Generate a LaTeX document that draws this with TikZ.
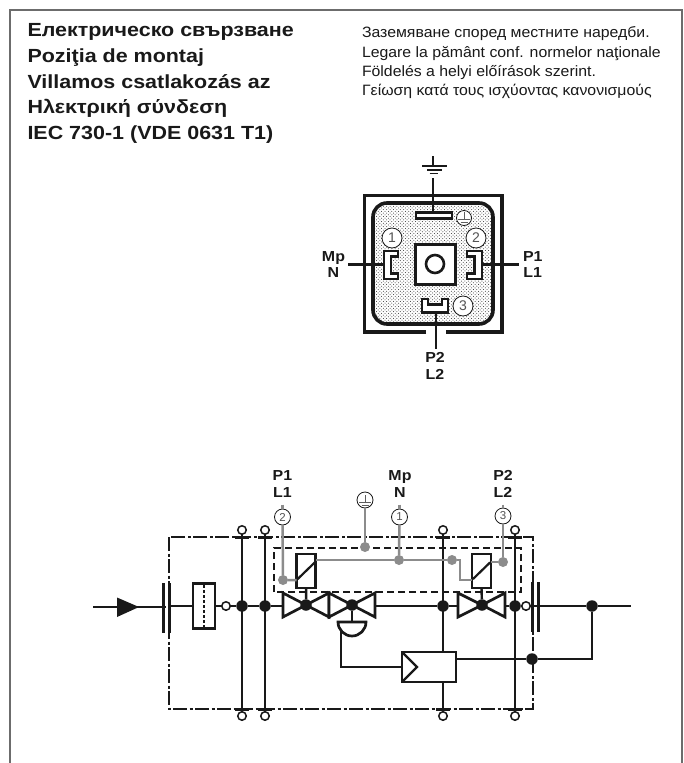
\documentclass[tikz,border=0pt]{standalone}
\usepackage{fontspec}
\setmainfont{Liberation Sans}
\newfontfamily\wideb[FakeStretch=1.13]{Liberation Sans Bold}
\newfontfamily\widel[FakeStretch=1.1]{Liberation Sans Bold}
\newfontfamily\widen[FakeStretch=1.055]{Liberation Sans}
\usetikzlibrary{patterns}
\pgfdeclarepatternformonly{stip}{\pgfqpoint{-1pt}{-1pt}}{\pgfqpoint{4.4pt}{4.4pt}}{\pgfqpoint{3.4pt}{3.4pt}}{%
 \pgfpathcircle{\pgfqpoint{0.8pt}{0.8pt}}{.5pt}%
 \pgfpathcircle{\pgfqpoint{2.5pt}{2.5pt}}{.5pt}%
 \pgfusepath{fill}}
\definecolor{ink}{gray}{0.1}
\definecolor{wire}{gray}{0.55}
\tikzset{
 x=1pt,y=-1pt,
 every node/.style={text=ink,inner sep=0pt,outer sep=0pt},
 title/.style={anchor=base west,font=\fontsize{19}{23}\wideb},
 note/.style={anchor=base west,font=\fontsize{15}{18}\widen},
 pinlabel/.style={align=center,font=\fontsize{14.5}{17}\widel},
 heavy/.style={draw=ink,line width=3.8pt},
 pinshape/.style={draw=ink,line width=2.8pt,fill=white,line join=miter},
 thin wire/.style={draw=ink,line width=1.7pt},
 med/.style={draw=ink,line width=2.7pt,fill=white},
 dot/.style={circle,fill=ink,minimum size=11.5pt},
 gdot/.style={circle,fill=wire,minimum size=10pt},
 port/.style={circle,draw=ink,line width=1.5pt,fill=white,minimum size=8.5pt},
 numc/.style={circle,draw=ink,line width=.8pt,fill=white,minimum size=20pt,font=\fontsize{14}{14}\selectfont,text=ink!75},
 numd/.style={circle,draw=ink,line width=.8pt,fill=white,minimum size=16pt,font=\fontsize{11.5}{12}\selectfont,text=ink!75},
 gray wire/.style={draw=wire,line width=2.5pt},
 capbar/.style={draw=ink,line width=3pt},
}
\begin{document}
\begin{tikzpicture}
\useasboundingbox (0,0) rectangle (684,763);
\fill[white] (0,0) rectangle (684,763);
\draw[draw=gray!85!black,line width=1.1pt] (10,763) -- (10,10) -- (682,10) -- (682,763);
% header
\node[title] (t1) at (27.5,36.5) {Електрическо свързване};
\node[title] (t2) at (27.5,62) {Poziţia de montaj};
\node[title] (t3) at (27.5,88) {Villamos csatlakozás az};
\node[title] (t4) at (27.5,113.5) {Ηλεκτρική σύνδεση};
\node[title] (t5) at (27.5,139.5) {IEC 730-1 (VDE 0631 T1)};
\node[note] (n1) at (362,37.5) {Заземяване според местните наредби.};
\node[note] (n2) at (362,57) {Legare la pământ conf. normelor naţionale};
\node[note] (n3) at (362,76) {Földelés a helyi előírások szerint.};
\node[note] (n4) at (362,95) {Γείωση κατά τους ισχύοντας κανονισμούς};
% connector housing
\draw[heavy] (426,332) -- (364.5,332) -- (364.5,195.5) -- (502,195.5) -- (502,332) -- (446,332);
\filldraw[pattern=stip,pattern color=ink!90,draw=ink,line width=3.6pt,rounded corners=14pt] (373,203) rectangle (493,324);
\node[draw=ink,line width=3pt,fill=white,minimum width=40pt,minimum height=40pt] (centre) at (435,264) {};
\node[circle,draw=ink,line width=2.6pt,fill=white,minimum size=18pt] (hole) at (435,264) {};
% earth pin and symbol
\node[draw=ink,line width=2.8pt,fill=white,minimum width=36pt,minimum height=6pt] (pe) at (434,215.5) {};
\coordinate (gtop) at (433,156);
\coordinate (gbase) at (433,166);
\draw[thin wire,line width=1.2pt] (gtop) -- (gbase);
\draw[thin wire,line width=1.2pt] (422,166) -- (447,166);
\draw[draw=ink,line width=1.3pt] (427,170) -- (442,170);
\draw[draw=ink,line width=1.3pt] (429.5,173.5) -- (438,173.5);
\coordinate (gw) at (433,178);
\draw[draw=ink,line width=2.6pt] (gw) -- (pe.north -| gw);
% pins
\filldraw[pinshape] (384,251) -- (398,251) -- (398,256.5) -- (391,256.5) -- (391,273.5) -- (398,273.5) -- (398,279) -- (384,279) -- cycle;
\filldraw[pinshape] (482,251) -- (467,251) -- (467,256.5) -- (474.5,256.5) -- (474.5,273.5) -- (467,273.5) -- (467,279) -- (482,279) -- cycle;
\filldraw[pinshape] (422,299) -- (428,299) -- (428,304.5) -- (442,304.5) -- (442,299) -- (448,299) -- (448,312.5) -- (422,312.5) -- cycle;
\coordinate (pl) at (384,264.5); \coordinate (plx) at (348,264.5);
\coordinate (pr) at (482,264.5); \coordinate (prx) at (519,264.5);
\coordinate (pb) at (436,312.5); \coordinate (pbx) at (436,349);
\draw[draw=ink,line width=2.6pt] (plx) -- (pl) (pr) -- (prx) (pb) -- (pbx);
\node[numc] (c1) at (392,238) {1};
\node[numc] (c2) at (476,238) {2};
\node[numc] (c3) at (463,306) {3};
\node[circle,draw=ink,line width=.8pt,fill=white,minimum size=15pt] (cg) at (464,218) {};
\draw[draw=ink!70,line width=1pt] (464,212) -- (464,219) (458,219) -- (470,219) (460.5,222) -- (467.5,222);
\node[pinlabel,anchor=east] (lm) at (345,264.5) {Mp\\[-.1pt]N};
\node[pinlabel,anchor=west] (lp) at (523,264.5) {P1\\[-.1pt]L1};
\node[pinlabel] (lb) at (435,365.5) {P2\\[-.1pt]L2};
% schematic: frames
\coordinate (fa) at (169,537); \coordinate (fb) at (533,709);
\draw[draw=ink,line width=1.6pt,dash pattern=on 14pt off 2.5pt on 3pt off 2.5pt] (fa) rectangle (fb);
\draw[draw=ink,line width=1.4pt,dash pattern=on 7pt off 4pt] (274,592) -- (274,548) -- (521,548) -- (521,592) -- cycle;
% tap lines with ports
\foreach \n/\x in {a/242,b/265,c/443,d/515}{
 \node[port] (top\n) at (\x,530) {};
 \node[port] (bot\n) at (\x,716) {};
 \node[dot] (j\n) at (\x,606) {};
 \draw[thin wire] (top\n) -- (bot\n);
 \draw[capbar] (\x-7,537) -- (\x+7,537);
 \draw[capbar] (\x-7,709) -- (\x+7,709);
}
% flow line
\coordinate (in) at (93,607);
\coordinate (bar1) at (166,607);
\coordinate (out) at (631,606);
\draw[thin wire] (in) -- (bar1);
\fill[ink] (117,597.5) -- (139,607) -- (117,617) -- cycle;
\draw[capbar] (163.5,583) -- (163.5,633) (169,583) -- (169,633);
\node[med,minimum width=22pt,minimum height=45pt] (filter) at (204,606) {};
\draw[draw=ink,line width=2.4pt,dash pattern=on 2.5pt off 2.5pt] (204,585) -- (204,627);
\node[port] (p1) at (226,606) {};
\node[port] (p2) at (526,606) {};
\node[dot] (jout) at (592,606) {};
\draw[thin wire] (169,606) -- (filter) (filter) -- (p1) (p1) -- (ja) (ja) -- (jb) (jb) -- (283,606);
\draw[thin wire] (375,606) -- (jc) (jc) -- (458,606);
\draw[thin wire] (505,606) -- (jd) (jd) -- (p2) (p2) -- (538,606);
\draw[thin wire] (538,606) -- (jout) (jout) -- (out);
\draw[capbar] (532.5,582) -- (532.5,632) (538,582) -- (538,632);
% valves
\foreach \l/\c/\r in {283/306/329,329/352/375,458/482/505}{
 \filldraw[med,line join=miter] (\l,593) -- (\c,605) -- (\l,617) -- cycle;
 \filldraw[med,line join=miter] (\r,593) -- (\c,605) -- (\r,617) -- cycle;
}
\node[dot] (v1) at (306,605) {};
\node[dot] (v2) at (352,605) {};
\node[dot] (v3) at (482,605) {};
% solenoids
\node[med,minimum width=19pt,minimum height=34pt] (s1) at (306.2,571) {};
\node[med,minimum width=19pt,minimum height=34pt] (s2) at (481.5,571) {};
\draw[draw=ink,line width=2.2pt] (s1.south west) ++(1,-9) -- ++(17,-16.5);
\draw[draw=ink,line width=2.2pt] (s2.south west) ++(1,-9) -- ++(17,-16.5);
\draw[draw=ink,line width=2.4pt] (s1.south) -- (v1) (s2.south) -- (v3);
% diaphragm and controller
\coordinate (dt) at (352,622);
\coordinate (dl) at (341,628);
\coordinate (rl) at (341,667);
\node[med,minimum width=54pt,minimum height=30pt] (reg) at (429,667) {};
\draw[thin wire] (dl) -- (rl) -- (reg.west);
\draw[med] (338,622) -- (366,622) arc[start angle=0,end angle=-180,radius=14pt] -- cycle;
\draw[draw=ink,line width=2.4pt] (v2) -- (dt);
\draw[draw=ink,line width=2.3pt,line join=miter] (402,652) -- (417,667) -- (402,682);
\node[dot] (jfb) at (532,659) {};
\coordinate (rr) at (456,659);
\coordinate (fbc) at (592,659);
\draw[thin wire] (rr) -- (jfb) (jfb) -- (fbc) -- (jout);
% grey wiring
\node[gdot] (g1) at (283,580) {};
\node[gdot] (g2) at (365,547) {};
\node[gdot] (g3) at (399,560) {};
\node[gdot] (g4) at (452,560) {};
\node[gdot] (g5) at (503,562) {};
\coordinate (tk2) at (282.5,504.5); \coordinate (tk1) at (399.5,504.5); \coordinate (tk3) at (503,504.5);
\node[numd] (w2) at (282.5,517) {2};
\node[numd] (w1) at (399.5,517) {1};
\node[numd] (w3) at (503,516) {3};
\node[circle,draw=ink,line width=.8pt,fill=white,minimum size=16pt] (wg) at (365,500) {};
\draw[draw=ink!70,line width=1pt] (365,495) -- (365,502) (359,502) -- (371,502) (361.5,505) -- (368.5,505);
\draw[gray wire] (tk2) -- (w2) (tk1) -- (w1) (tk3) -- (w3);
\draw[gray wire] (w2) -- (g1) (g1) -- (s1.west |- g1);
\draw[gray wire] (wg) -- (g2);
\draw[gray wire] (w1) -- (g3);
\draw[gray wire] (316,560) -- (g3) (g3) -- (g4);
\coordinate (k1) at (460,560); \coordinate (k2) at (460,580);
\draw[gray wire] (g4) -- (k1) -- (k2) -- (472,580);
\draw[gray wire] (491,562) -- (g5) (g5) -- (w3);
\node[pinlabel] (u1) at (282.5,484) {P1\\[-.1pt]L1};
\node[pinlabel] (u2) at (400,484) {Mp\\[-.1pt]N};
\node[pinlabel] (u3) at (503,484) {P2\\[-.1pt]L2};
\end{tikzpicture}
\end{document}
